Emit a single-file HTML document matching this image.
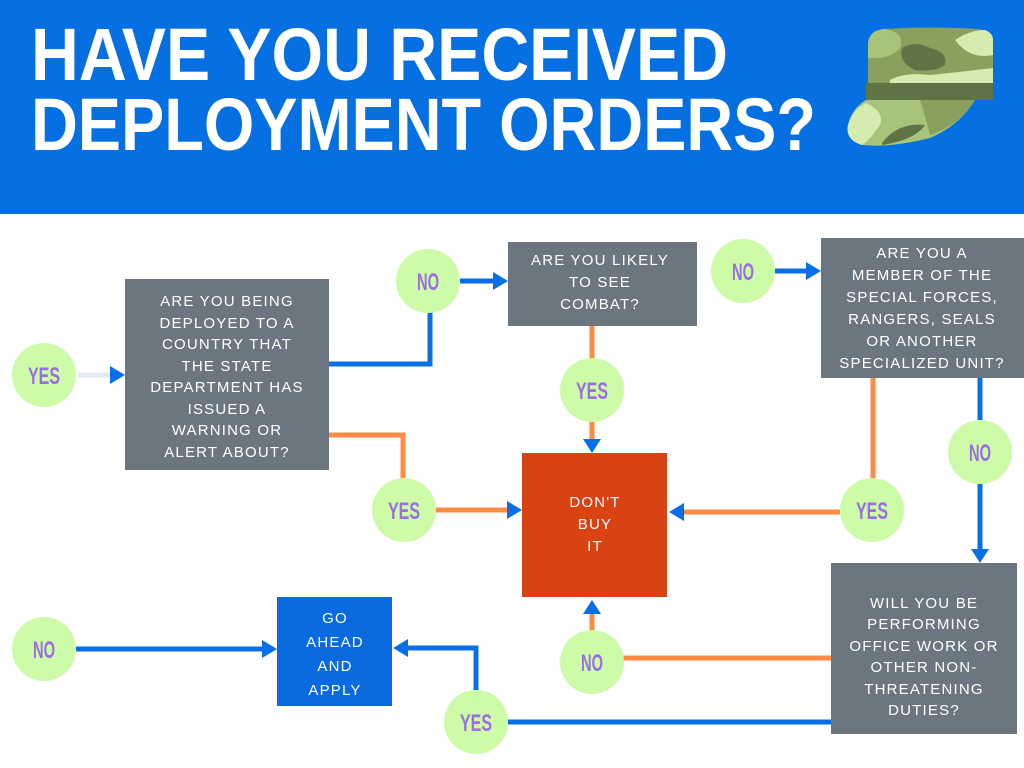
<!DOCTYPE html>
<html><head><meta charset="utf-8"><style>
html,body{margin:0;padding:0;background:#fff}
svg{display:block}
.t{font-family:"Liberation Sans",sans-serif;font-size:15px;fill:#fff;letter-spacing:1.2px;text-anchor:middle}
.c{font-family:"Liberation Sans",sans-serif;font-weight:bold;font-size:24px;fill:#9b6fe2;text-anchor:middle}
</style></head><body>
<svg width="1024" height="768" viewBox="0 0 1024 768" xmlns="http://www.w3.org/2000/svg">
<rect x="0" y="0" width="1024" height="214" fill="#0670e2"/>
<text x="31" y="80" font-family="Liberation Sans,sans-serif" font-weight="bold" font-size="74" fill="#fff" textLength="697" lengthAdjust="spacingAndGlyphs">HAVE YOU RECEIVED</text>
<text x="31" y="150" font-family="Liberation Sans,sans-serif" font-weight="bold" font-size="74" fill="#fff" textLength="785" lengthAdjust="spacingAndGlyphs">DEPLOYMENT ORDERS?</text>
<!-- hat -->
<g>
<path d="M866 100 L975 100 Q960 125 930 138 Q890 148 862 145 Q845 140 848 125 Q852 108 866 100Z" fill="#a8c47a"/>
<path d="M848 125 Q852 110 866 103 Q885 112 880 125 Q870 140 862 145 Q845 140 848 125Z" fill="#d6ebb0"/>
<path d="M882 143 Q898 122 925 125 Q915 140 882 145Z" fill="#5f7445"/>
<path d="M920 100 L975 100 Q960 125 930 135 Q925 115 920 100Z" fill="#8aa05e"/>
<path d="M868 45 Q868 30 885 29 Q930 26 978 29 Q993 31 993 45 L993 95 L868 95 Z" fill="#8aa05e"/>
<path d="M868 45 Q868 30 885 29 Q905 32 900 48 Q890 60 868 58Z" fill="#a8c47a"/>
<path d="M902 48 Q915 40 930 48 Q948 52 945 65 Q935 72 915 70 Q898 62 902 48Z" fill="#5f7445"/>
<path d="M890 80 Q905 72 930 75 Q960 72 993 68 L993 86 L890 88Z" fill="#d6ebb0"/>
<path d="M955 40 Q970 30 985 30 Q993 33 993 40 L993 55 Q970 60 955 40Z" fill="#d6ebb0"/>
<rect x="866" y="83" width="127" height="17" fill="#5f7445"/>
</g>
<g stroke-width="5" fill="none">
<line x1="78" y1="375" x2="110" y2="375" stroke="#e4eaf3"/>
<polyline points="329,364 430,364 430,312" stroke="#0a6fe6"/>
<line x1="460" y1="281" x2="495" y2="281" stroke="#0a6fe6"/>
<polyline points="329,435 403,435 403,480" stroke="#ff8a44"/>
<line x1="436" y1="510" x2="508" y2="510" stroke="#ff8a44"/>
<line x1="592" y1="326" x2="592" y2="360" stroke="#ff8a44"/>
<line x1="592" y1="420" x2="592" y2="442" stroke="#ff8a44"/>
<line x1="775" y1="271" x2="808" y2="271" stroke="#0a6fe6"/>
<line x1="873" y1="378" x2="873" y2="480" stroke="#ff8a44"/>
<line x1="840" y1="512" x2="682" y2="512" stroke="#ff8a44"/>
<line x1="980" y1="378" x2="980" y2="422" stroke="#0a6fe6"/>
<line x1="980" y1="482" x2="980" y2="552" stroke="#0a6fe6"/>
<line x1="832" y1="658" x2="622" y2="658" stroke="#ff8a44"/>
<line x1="592" y1="632" x2="592" y2="612" stroke="#ff8a44"/>
<line x1="76" y1="649" x2="262" y2="649" stroke="#0a6fe6"/>
<line x1="505" y1="722" x2="832" y2="722" stroke="#0a6fe6"/>
<polyline points="476,692 476,648 405,648" stroke="#0a6fe6"/>
</g>
<g fill="#0a6fe6">
<polygon points="110,366 125,375 110,384"/>
<polygon points="493,272 508,281 493,290"/>
<polygon points="507,501 522,510 507,519"/>
<polygon points="583,439 601,439 592,453"/>
<polygon points="806,262 821,271 806,280"/>
<polygon points="684,503 669,512 684,521"/>
<polygon points="971,549 989,549 980,563"/>
<polygon points="583,614 601,614 592,600"/>
<polygon points="262,640 277,649 262,658"/>
<polygon points="408,639 393,648 408,657"/>
</g>
<rect x="125" y="279" width="204" height="191" fill="#6b7680"/>
<rect x="508" y="242" width="189" height="84" fill="#6b7680"/>
<rect x="821" y="238" width="203" height="140" fill="#6b7680"/>
<rect x="522" y="453" width="145" height="144" fill="#d94212"/>
<rect x="831" y="563" width="186" height="171" fill="#6b7680"/>
<rect x="277" y="597" width="115" height="109" fill="#0a6be0"/>
<g class="t">
<text x="227" y="306">ARE YOU BEING</text><text x="227" y="328">DEPLOYED TO A</text><text x="227" y="349">COUNTRY THAT</text><text x="227" y="371">THE STATE</text><text x="227" y="392">DEPARTMENT HAS</text><text x="227" y="414">ISSUED A</text><text x="227" y="435">WARNING OR</text><text x="227" y="457">ALERT ABOUT?</text>
<text x="600" y="265">ARE YOU LIKELY</text><text x="600" y="287">TO SEE</text><text x="600" y="309">COMBAT?</text>
<text x="922" y="258">ARE YOU A</text><text x="922" y="280">MEMBER OF THE</text><text x="922" y="302">SPECIAL FORCES,</text><text x="922" y="324">RANGERS, SEALS</text><text x="922" y="346">OR ANOTHER</text><text x="922" y="368">SPECIALIZED UNIT?</text>
<text x="595" y="507">DON'T</text><text x="595" y="529">BUY</text><text x="595" y="551">IT</text>
<text x="924" y="608">WILL YOU BE</text><text x="924" y="629">PERFORMING</text><text x="924" y="651">OFFICE WORK OR</text><text x="924" y="672">OTHER NON-</text><text x="924" y="694">THREATENING</text><text x="924" y="715">DUTIES?</text>
<text x="335" y="623">GO</text><text x="335" y="647">AHEAD</text><text x="335" y="671">AND</text><text x="335" y="695">APPLY</text>
</g>
<g fill="#cdfba8">
<circle cx="44" cy="375" r="32"/><circle cx="428" cy="281" r="32"/><circle cx="592" cy="390" r="32"/>
<circle cx="743" cy="271" r="32"/><circle cx="980" cy="452" r="32"/><circle cx="404" cy="510" r="32"/>
<circle cx="872" cy="510" r="32"/><circle cx="592" cy="662" r="32"/><circle cx="44" cy="649" r="32"/>
<circle cx="476" cy="722" r="32"/>
</g>
<g class="c">
<text x="44" y="384" textLength="32" lengthAdjust="spacingAndGlyphs">YES</text>
<text x="428" y="290" textLength="22" lengthAdjust="spacingAndGlyphs">NO</text>
<text x="592" y="399" textLength="32" lengthAdjust="spacingAndGlyphs">YES</text>
<text x="743" y="280" textLength="22" lengthAdjust="spacingAndGlyphs">NO</text>
<text x="980" y="461" textLength="22" lengthAdjust="spacingAndGlyphs">NO</text>
<text x="404" y="519" textLength="32" lengthAdjust="spacingAndGlyphs">YES</text>
<text x="872" y="519" textLength="32" lengthAdjust="spacingAndGlyphs">YES</text>
<text x="592" y="671" textLength="22" lengthAdjust="spacingAndGlyphs">NO</text>
<text x="44" y="658" textLength="22" lengthAdjust="spacingAndGlyphs">NO</text>
<text x="476" y="731" textLength="32" lengthAdjust="spacingAndGlyphs">YES</text>
</g>
</svg>
</body></html>
